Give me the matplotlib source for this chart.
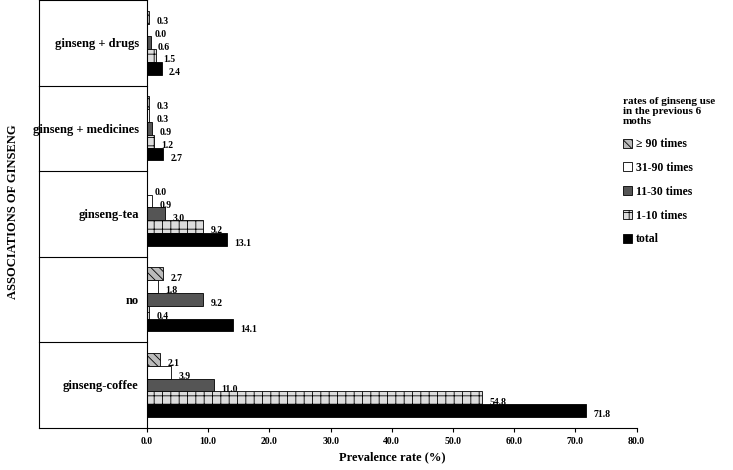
import numpy as np
import matplotlib
matplotlib.use('Agg')
import matplotlib.pyplot as plt

plt.rcParams['font.family'] = 'Liberation Serif'
plt.rcParams['font.weight'] = 'bold'
plt.rcParams['axes.labelweight'] = 'bold'
plt.rcParams['hatch.linewidth'] = 0.6

categories = ['ginseng + drugs', 'ginseng + medicines', 'ginseng-tea', 'no', 'ginseng-coffee']
series = ['\u2265 90 times', '31-90 times', '11-30 times', '1-10 times', 'total']
values = {
    '\u2265 90 times': [0.3, 0.3, 0.0, 2.7, 2.1],
    '31-90 times': [0.0, 0.3, 0.9, 1.8, 3.9],
    '11-30 times': [0.6, 0.9, 3.0, 9.2, 11.0],
    '1-10 times': [1.5, 1.2, 9.2, 0.4, 54.8],
    'total': [2.4, 2.7, 13.1, 14.1, 71.8],
}
xticks = np.arange(0, 81, 10)

styles = [
    dict(color='#bbbbbb', hatch='\\\\\\\\'),
    dict(color='white', hatch=None),
    dict(color='#555555', hatch=None),
    dict(color='#dddddd', hatch='++'),
    dict(color='black', hatch=None),
]

fig = plt.figure(figsize=(7.33, 4.70), dpi=100)
ax = fig.add_axes([0.2005, 0.09, 0.668, 0.91])

n = len(categories)
bh = 0.15
for i, s in enumerate(series):
    y = np.arange(n) + (i - 2) * bh
    ax.barh(y, values[s], height=bh, color=styles[i]['color'], hatch=styles[i]['hatch'],
            edgecolor='black', linewidth=0.6, label=s)
    for yy, v in zip(y, values[s]):
        ax.text(v + 1.2, yy + 0.05, '%.1f' % v, va='center', ha='left', fontsize=7)

ax.set_ylim(n - 0.5, -0.5)
ax.set_xlim(0, 80)
ax.set_xticks(xticks)
ax.set_xticklabels(['%.1f' % t for t in xticks], fontsize=7)
ax.set_yticks(np.arange(n))
ax.set_yticklabels(categories, fontsize=9)
ax.tick_params(axis='y', length=0, pad=6)
ax.tick_params(axis='x', length=3)
for sp in ['top', 'right']:
    ax.spines[sp].set_visible(False)
ax.set_xlabel('Prevalence rate (%)', fontsize=9)

# group separators extending left of the axis
left = -0.22
for b in np.arange(n + 1) - 0.5:
    ax.plot([left, 0], [b, b], transform=ax.get_yaxis_transform(), color='black', lw=0.8, clip_on=False)
ax.plot([left, left], [-0.5, n - 0.5], transform=ax.get_yaxis_transform(), color='black', lw=0.8, clip_on=False)
fig.text(0.018, 0.55, 'ASSOCIATIONS OF GINSENG', rotation=90, va='center', ha='center', fontsize=9)

leg = ax.legend(loc='center left', bbox_to_anchor=(0.95, 0.6), frameon=False, fontsize=8.5,
                title='rates of ginseng use\nin the previous 6\nmoths', handlelength=0.8,
                handleheight=0.8, handletextpad=0.3, labelspacing=1.0)
leg.get_title().set_fontsize(8)
leg.get_title().set_fontweight('bold')
leg._legend_box.align = 'left'

fig.savefig('out.png')
